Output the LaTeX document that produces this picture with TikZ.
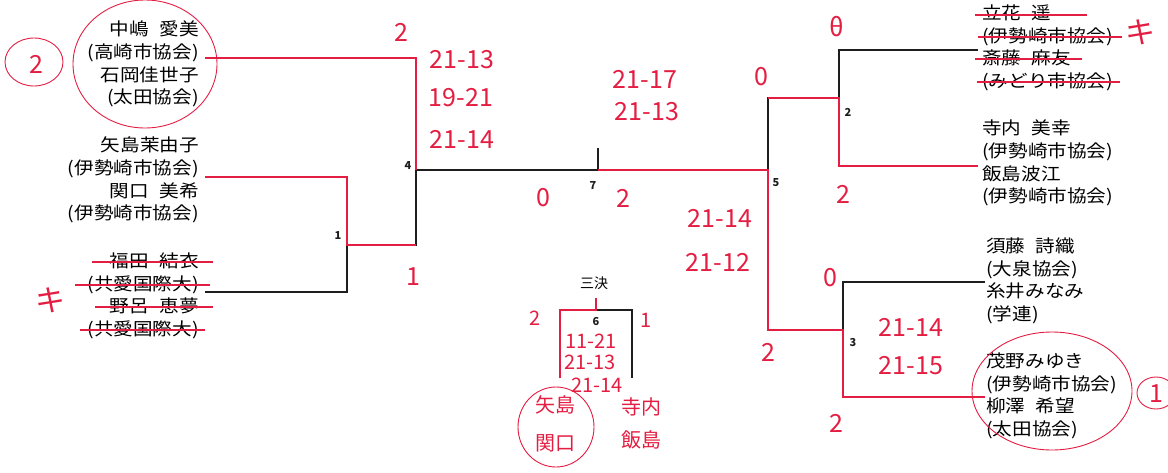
\documentclass[tikz,border=0pt]{standalone}
\usepackage{fontspec}
\setmainfont{Noto Sans CJK JP}
\newfontfamily\namefont{Noto Sans CJK JP}[FakeStretch=1.12]
\newcommand{\namegap}{\hspace{.6em}}
\usetikzlibrary{calc}
\definecolor{penred}{RGB}{228,30,66}
\definecolor{inkblack}{RGB}{30,30,30}

\begin{document}
\begin{tikzpicture}[
 x=1pt,y=-1pt,
 team/.style={align=right,inner sep=0pt,font=\namefont\fontsize{17.5}{22.7}\selectfont},
 teamr/.style={align=left,inner sep=0pt,font=\namefont\fontsize{17.5}{22.7}\selectfont},
 br/.style={draw=inkblack,line width=1.2pt},
 win/.style={draw=penred,line width=2pt},
 strike/.style={draw=penred,line width=1.1pt},
 ring/.style={draw=penred,line width=0.9pt},
 hand/.style={text=penred,inner sep=0pt,font=\fontsize{25}{27}\selectfont},
 small/.style={text=penred,inner sep=0pt,font=\fontsize{20}{22}\selectfont},
 num/.style={text=inkblack,inner sep=0pt,font=\fontsize{11}{11}\selectfont\bfseries}
]
\path[use as bounding box,fill=white] (0,0) rectangle (1168,472);

% pairs
\node[team,anchor=east] (tA) at (199,64) {中嶋\namegap 愛美\\(高崎市協会)\\石岡佳世子\\(太田協会)};
\node[team,anchor=east] (tB) at (199,180) {矢島茉由子\\(伊勢崎市協会)\\関口\namegap 美希\\(伊勢崎市協会)};
\node[team,anchor=east] (tC) at (199,296) {福田\namegap 結衣\\(共愛国際大)\\野呂\namegap 恵夢\\(共愛国際大)};
\node[teamr,anchor=west] (tD) at (982,48) {立花\namegap 遥\\(伊勢崎市協会)\\斎藤\namegap 麻友\\(みどり市協会)};
\node[teamr,anchor=west] (tE) at (982,163) {寺内\namegap 美幸\\(伊勢崎市協会)\\飯島波江\\(伊勢崎市協会)};
\node[teamr,anchor=west] (tF) at (986,281) {須藤\namegap 詩織\\(大泉協会)\\糸井みなみ\\(学連)};
\node[teamr,anchor=west] (tG) at (986,396) {茂野みゆき\\(伊勢崎市協会)\\柳澤\namegap 希望\\(太田協会)};

% bracket points
\coordinate (pA) at (205,58);
\coordinate (pB) at (205,177);
\coordinate (pC) at (205,292);
\coordinate (pD) at (978,50);
\coordinate (pE) at (978,166);
\coordinate (pF) at (985,282);
\coordinate (pG) at (985,397);
\coordinate (m1) at (347,245);
\coordinate (m4) at (416,170);
\coordinate (m7) at (598,170);
\coordinate (m5) at (768,170);
\coordinate (m2) at (839,98);
\coordinate (m3) at (843,330);
\coordinate (m6) at (596,310);
\coordinate (q6l) at (560,378);
\coordinate (q6r) at (632,378);

\draw[br] (pA) -| (m4) |- (m1);
\draw[br] (pB) -| (m1) |- (pC);
\draw[br] (m4) -- (m5);
\draw[br] (m7) -- ++(0,-22);
\draw[br] (m2) -| (m5) |- (m3);
\draw[br] (pD) -| (m2) |- (pE);
\draw[br] (pF) -| (m3) |- (pG);
\draw[br] (q6l) |- (m6) -| (q6r);
\draw[br] (m6) -- ++(0,-12);
\node[font=\fontsize{14}{14}\selectfont] (sanketsu) at (594,283) {三決};

\foreach \x/\y/\n in {338/236/1,408/166/4,593/186/7,776/183/5,848/112/2,853/343/3,596/322/6}
  \node[num] (n\n) at (\x,\y) {\n};

% red pen: winners
\draw[win] (pA) -| (m4);
\draw[win] (pB) -| (m1) -- (m1 -| m4);
\draw[win] (m7) -- (m5) -- (m5 |- m3) -- (m3) |- (pG);
\draw[win] (m2 -| m5) -- (m2) |- (pE);
\draw[win] (q6l) |- (m6) -- ++(0,-12);

% crossed out pairs
\foreach \dy/\xa/\xb in {-34/-107/14,-11/-124/11,11/-104/14,34/-119/6}
  \draw[strike] ($(tC.east)+(\xa,\dy)$) -- ($(tC.east)+(\xb,\dy)$);
\foreach \dy/\xa/\xb in {-33/-7/105,-11/-4/140,11/-7/100,34/-5/138}
  \draw[strike] ($(tD.west)+(\xa,\dy)$) -- ($(tD.west)+(\xb,\dy)$);

% rings
\draw[ring] (145,64) ellipse [x radius=72pt,y radius=64pt];
\draw[ring] (34,62) ellipse [x radius=29pt,y radius=24pt];
\draw[ring] (1052,391) ellipse [x radius=80pt,y radius=59pt];
\draw[ring] (1156,393) ellipse [x radius=19pt,y radius=16pt];
\draw[ring] (556,427) ellipse [x radius=38pt,y radius=40pt];

% scores
\foreach \x/\y/\s [count=\i] in {401/32/2,462/60/21-13,461/98/19-21,462/139/21-14,413/277/1,
  543/198/0,623/198/2,645/79/21-17,647/112/21-13,761/77/0,720/218/21-14,718/262/21-12,
  768/352/2,837/27/θ,843/194/2,830/278/0,911/327/21-14,911/366/21-15,836/423/2,
  36/64/2,1156/394/1}
  \node[hand] (s\i) at (\x,\y) {\s};
\foreach \x/\y/\s [count=\i] in {535/318/2,646/320/1,591/341/11-21,590/362/21-13,597/385/21-14,
  555/405/矢島,555/443/関口,641/407/寺内,641/440/飯島}
  \node[small] (r\i) at (\x,\y) {\s};
\node[hand,font=\fontsize{30}{30}\selectfont] (kl) at (50,300) {キ};
\node[hand,font=\fontsize{30}{30}\selectfont] (kr) at (1140,32) {キ};
\end{tikzpicture}
\end{document}
